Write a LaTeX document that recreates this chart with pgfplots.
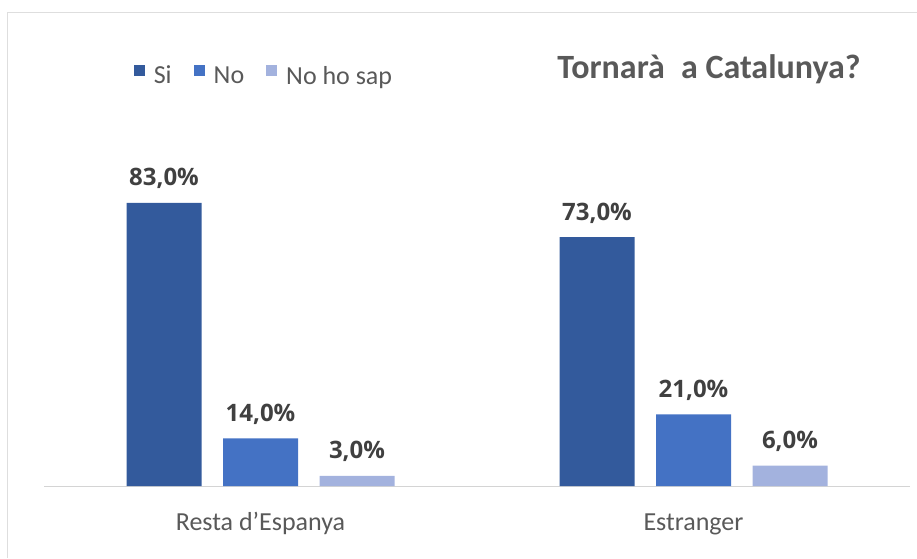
\documentclass[border=0pt]{standalone}
\usepackage{pgfplots}
\pgfplotsset{compat=1.18}
\usepackage{fontspec}
\setmainfont{Carlito}
\newfontfamily\labfont{Open Sans}
\definecolor{csi}{HTML}{335A9C}
\definecolor{cno}{HTML}{4472C4}
\definecolor{cns}{HTML}{A3B2DE}
\definecolor{txt}{HTML}{595959}
\definecolor{lab}{HTML}{404040}
\begin{document}
\begin{tikzpicture}
\path[use as bounding box] (0,0) rectangle (917pt,558pt);
\draw[black!13, line width=1pt] (7pt,0) -- (7pt,545pt) -- (917pt,545pt);
\begin{axis}[
  at={(44pt,72pt)}, anchor=south west,
  scale only axis, width=866pt, height=341pt,
  xmin=-0.5, xmax=1.5, ymin=0, ymax=100,
  ybar=21.5pt, bar width=75pt,
  axis x line*=bottom, axis y line=none,
  x axis line style={draw=black!17, line width=1pt},
  xtick={0,1}, xticklabels={Resta d’Espanya, Estranger},
  major tick length=0pt,
  xticklabel style={font=\fontsize{26}{30}\selectfont, text=txt, anchor=base, yshift=-44pt},
  nodes near coords={\pgfmathprintnumber[fixed,fixed zerofill,precision=1,use comma]{\pgfplotspointmeta}\%},
  every node near coord/.append style={font=\labfont\bfseries\fontsize{24}{28}\selectfont, text=lab, anchor=base, yshift=17pt},
  /pgf/number format/assume math mode=true,
  legend style={at={(axis description cs:0.1,1.203)}, anchor=west, draw=none, fill=none,
    font=\fontsize{26}{30}\selectfont, text=txt, legend columns=3,
    /tikz/every odd column/.append style={column sep=7pt},
    /tikz/every even column/.append style={column sep=20pt}},
  legend image code/.code={\fill[#1] (0pt,0pt) rectangle (11pt,11pt);},
]
\addplot[fill=csi, draw=none] coordinates {(0,83) (1,73)};
\addplot[fill=cno, draw=none] coordinates {(0,14) (1,21)};
\addplot[fill=cns, draw=none] coordinates {(0,3) (1,6)};
\legend{Si, No, No ho sap}
\end{axis}
\node[font=\bfseries\fontsize{34}{40}\selectfont, text=txt] at (709pt,489pt) {Tornarà\hspace{0.25em} a Catalunya?};
\end{tikzpicture}
\end{document}
